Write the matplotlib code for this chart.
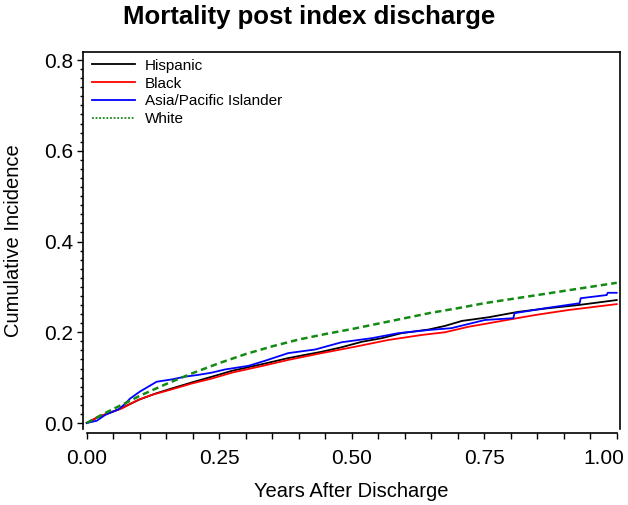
import matplotlib
matplotlib.use("Agg")
import matplotlib.pyplot as plt
from matplotlib.lines import Line2D
from matplotlib.ticker import MultipleLocator, FormatStrFormatter
from matplotlib.transforms import ScaledTranslation

plt.rcParams["font.family"] = ["Liberation Sans", "DejaVu Sans"]

# valeurs (annees apres la sortie, incidence cumulee)
t_hisp = [0.0, 0.02, 0.06, 0.10, 0.13, 0.16, 0.20, 0.236, 0.274, 0.305, 0.336,
          0.38, 0.443, 0.481, 0.519, 0.557, 0.594, 0.645, 0.676, 0.708, 0.758,
          0.814, 0.871, 0.928, 1.0]
v_hisp = [0.0, 0.012, 0.030, 0.052, 0.065, 0.076, 0.090, 0.102, 0.115, 0.123, 0.131,
          0.143, 0.157, 0.167, 0.179, 0.187, 0.198, 0.206, 0.214, 0.225, 0.233,
          0.245, 0.253, 0.260, 0.271]

t_black = [0.0, 0.022, 0.066, 0.097, 0.123, 0.16, 0.198, 0.236, 0.274, 0.336,
           0.38, 0.443, 0.506, 0.569, 0.632, 0.676, 0.72, 0.783, 0.846, 0.909, 1.0]
v_black = [0.0, 0.014, 0.032, 0.051, 0.062, 0.074, 0.087, 0.098, 0.111, 0.127,
           0.139, 0.154, 0.168, 0.183, 0.194, 0.200, 0.212, 0.225, 0.238, 0.249, 0.262]

t_asia = [0.0, 0.019, 0.035, 0.06, 0.072, 0.082, 0.10, 0.116, 0.132, 0.16, 0.185,
          0.21, 0.236, 0.261, 0.305, 0.336, 0.38, 0.431, 0.481, 0.538, 0.588,
          0.645, 0.688, 0.751, 0.805, 0.807, 0.865, 0.93, 0.932, 0.981, 0.983, 1.0]
v_asia = [0.0, 0.005, 0.018, 0.030, 0.042, 0.054, 0.069, 0.080, 0.091, 0.096, 0.102,
          0.106, 0.111, 0.118, 0.126, 0.137, 0.154, 0.162, 0.178, 0.187, 0.198,
          0.205, 0.209, 0.227, 0.231, 0.242, 0.253, 0.264, 0.275, 0.282, 0.287, 0.287]

t_white = [0.0, 0.025, 0.05, 0.075, 0.10, 0.125, 0.15, 0.20, 0.25, 0.30, 0.35,
           0.40, 0.45, 0.50, 0.55, 0.60, 0.65, 0.70, 0.75, 0.80, 0.85, 0.90, 0.95, 1.0]
v_white = [0.0, 0.016, 0.031, 0.045, 0.060, 0.073, 0.086, 0.110, 0.132, 0.152, 0.169,
           0.184, 0.196, 0.207, 0.219, 0.231, 0.243, 0.253, 0.264, 0.273, 0.282,
           0.291, 0.300, 0.309]

x_ticks = [0.0, 0.25, 0.5, 0.75, 1.0]
y_ticks = [0.0, 0.2, 0.4, 0.6, 0.8]

fig = plt.figure(figsize=(6.28, 5.05), dpi=100)
ax = fig.add_axes([0.1322, 0.1505, 0.8551, 0.7465])

ax.plot(t_hisp, v_hisp, color="black", lw=1.3)
ax.plot(t_black, v_black, color="#ff0000", lw=1.3)
ax.plot(t_asia, v_asia, color="#0000ff", lw=1.3)
ax.plot(t_white, v_white, color="#138a13", lw=1.8, ls=(0, (2.6, 1.6)))

ax.set_xlim(-0.007, 1.0062)
ax.set_ylim(-0.0132, 0.8176)
ax.set_xticks(x_ticks)
ax.set_yticks(y_ticks)
ax.xaxis.set_major_formatter(FormatStrFormatter("%.2f"))
ax.yaxis.set_major_formatter(FormatStrFormatter("%.1f"))
ax.xaxis.set_minor_locator(MultipleLocator(0.05))
ax.yaxis.set_minor_locator(MultipleLocator(0.02))

for s in ax.spines.values():
    s.set_linewidth(1.2)
ax.spines["bottom"].set_position(("outward", 3))
ax.spines["bottom"].set_bounds(0, 1)

ax.tick_params(axis="x", which="both", length=4.5, width=1.0, labelsize=15, pad=7)
ax.tick_params(axis="y", which="major", length=4, width=1.0, labelsize=15, pad=3)
ax.tick_params(axis="y", which="minor", length=2.3, width=1.0)

# la derniere etiquette est decalee vers la gauche comme dans l'original
fig.canvas.draw()
last = ax.get_xticklabels()[-1]
last.set_transform(last.get_transform() + ScaledTranslation(-13 / 100, 0, fig.dpi_scale_trans))

ax.set_xlabel("Years After Discharge", fontsize=14.5)
ax.set_ylabel("Cumulative Incidence", fontsize=14.5)
ax.xaxis.set_label_coords(0.5, -0.14)
ax.yaxis.set_label_coords(-0.112, 0.5)

fig.text(309 / 628, 1 - 17 / 505, "Mortality post index discharge",
         fontsize=18.5, fontweight="bold", ha="center", va="center")

handles = [
    Line2D([], [], color="black", lw=1.3),
    Line2D([], [], color="#ff0000", lw=1.3),
    Line2D([], [], color="#0000ff", lw=1.3),
    Line2D([], [], color="#138a13", lw=1.3, ls=(0, (1, 1))),
]
labels = ["Hispanic", "Black", "Asia/Pacific Islander", "White"]
ax.legend(handles, labels, loc="upper left", bbox_to_anchor=(9 / 537, 0.982),
          frameon=False, fontsize=11, borderpad=0, borderaxespad=0,
          handlelength=2.8, handletextpad=0.65, labelspacing=0.25)

fig.savefig("out.png", dpi=100)
